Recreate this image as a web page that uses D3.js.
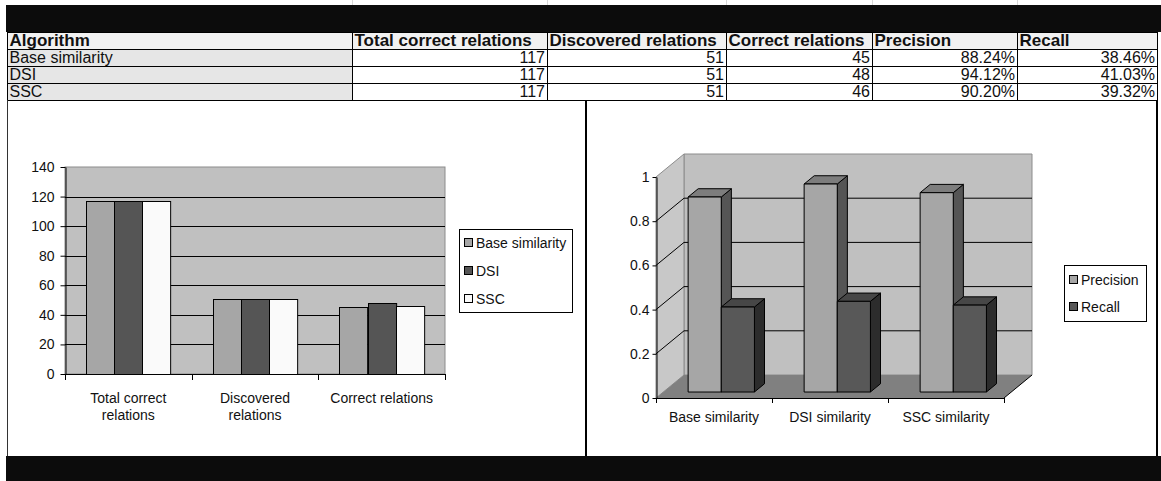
<!DOCTYPE html>
<html>
<head>
<meta charset="utf-8">
<script src="https://cdn.jsdelivr.net/npm/d3@7"></script>
<style>
  html, body { margin: 0; padding: 0; background: #fff; }
  svg { display: block; }
  text { font-family: "Liberation Sans Narrow", "Arial Narrow", "Liberation Sans", Arial, sans-serif; fill: #111; }
</style>
</head>
<body>
<svg id="chart" width="1161" height="481"></svg>
<script>
// ---- data ----
const tableColumns = ["Algorithm", "Total correct relations", "Discovered relations", "Correct relations", "Precision", "Recall"];
const algorithms = ["Base similarity", "DSI", "SSC"];
const totalCorrect = [117, 117, 117];
const discovered = [51, 51, 51];
const correctFound = [45, 48, 46];
const precision = [0.8824, 0.9412, 0.9020];
const recall = [0.3846, 0.4103, 0.3932];

const countCategories = ["Total correct relations", "Discovered relations", "Correct relations"];
const countCategoryLines = [["Total correct", "relations"], ["Discovered", "relations"], ["Correct relations"]];
const countTicks = [0, 20, 40, 60, 80, 100, 120, 140];

const rateCategories = ["Base similarity", "DSI similarity", "SSC similarity"];
const rateSeries = ["Precision", "Recall"];
const rateTicks = [0, 0.2, 0.4, 0.6, 0.8, 1];

const CHART_FONT = 14;
const svg = d3.select("#chart");

// ---- page frame ----
// faint sheet gridlines above the banner
[352, 547, 726, 872, 1017].forEach(x => {
  svg.append("line").attr("x1", x + 0.5).attr("x2", x + 0.5).attr("y1", 0).attr("y2", 5)
    .attr("stroke", "#d8d8d8");
});
svg.append("rect").attr("x", 6).attr("y", 5).attr("width", 1155).attr("height", 27).attr("fill", "#0c0c0c");
svg.append("rect").attr("x", 6).attr("y", 456).attr("width", 1155).attr("height", 25).attr("fill", "#0c0c0c");

// ---- table ----
const colEdges = [7, 352, 547, 726, 872, 1017, 1157];
const rowEdges = [32, 49, 66, 83, 100];
const pct = d3.format(".2%");
const rows = algorithms.map((a, i) => [
  a, String(totalCorrect[i]), String(discovered[i]), String(correctFound[i]),
  pct(precision[i]), pct(recall[i])
]);

const table = svg.append("g");
// header background
table.append("rect").attr("x", colEdges[0]).attr("y", rowEdges[0])
  .attr("width", colEdges[6] - colEdges[0]).attr("height", rowEdges[1] - rowEdges[0]).attr("fill", "#f1f1f1");
// first column background
table.append("rect").attr("x", colEdges[0]).attr("y", rowEdges[1])
  .attr("width", colEdges[1] - colEdges[0]).attr("height", rowEdges[4] - rowEdges[1]).attr("fill", "#e6e6e6");

rowEdges.forEach(y => table.append("line")
  .attr("x1", colEdges[0]).attr("x2", colEdges[6]).attr("y1", y + 0.5).attr("y2", y + 0.5)
  .attr("stroke", "#000"));
colEdges.forEach(x => table.append("line")
  .attr("x1", x + 0.5).attr("x2", x + 0.5).attr("y1", rowEdges[0]).attr("y2", rowEdges[4])
  .attr("stroke", "#000"));

tableColumns.forEach((c, j) => {
  table.append("text").attr("x", colEdges[j] + 2.5).attr("y", rowEdges[1] - 3.5)
    .attr("font-size", 17).attr("font-weight", "bold").text(c);
});
rows.forEach((r, i) => {
  r.forEach((v, j) => {
    const t = table.append("text").attr("y", rowEdges[i + 2] - 3.5).attr("font-size", 16).text(v);
    if (j === 0) t.attr("x", colEdges[0] + 2.5);
    else t.attr("x", colEdges[j + 1] - 2).attr("text-anchor", "end");
  });
});

// ---- panel borders ----
svg.append("line").attr("x1", 7.5).attr("x2", 7.5).attr("y1", 100).attr("y2", 456).attr("stroke", "#333");
svg.append("line").attr("x1", 586).attr("x2", 586).attr("y1", 100).attr("y2", 456).attr("stroke", "#000").attr("stroke-width", 2);
svg.append("line").attr("x1", 1157).attr("x2", 1157).attr("y1", 100).attr("y2", 456).attr("stroke", "#000").attr("stroke-width", 2);

// ---- left chart: counts per category, one column per algorithm ----
const countBySeries = algorithms.map((a, i) => ({
  name: a,
  values: [totalCorrect[i], discovered[i], correctFound[i]]
}));
const countColors = ["#a6a6a6", "#555555", "#fafafa"];

const left = svg.append("g");
const yCount = d3.scaleLinear().domain([0, 140]).range([374, 167]);
const xCount = d3.scaleBand().domain(countCategories).range([65, 445]);
const xCountSeries = d3.scaleBand().domain(algorithms).range([0, xCount.bandwidth()])
  .paddingInner(0).paddingOuter(0.75);

left.append("rect").attr("x", 65).attr("y", yCount(140)).attr("width", 380).attr("height", yCount(0) - yCount(140))
  .attr("fill", "#c0c0c0").attr("stroke", "#8c8c8c");
countTicks.filter(t => t > 0 && t < 140).forEach(t => {
  left.append("line").attr("x1", 65).attr("x2", 445).attr("y1", Math.round(yCount(t)) + 0.5).attr("y2", Math.round(yCount(t)) + 0.5)
    .attr("stroke", "#000");
});

countBySeries.forEach((s, si) => {
  left.selectAll(null).data(s.values.map((v, ci) => ({ v, c: countCategories[ci] })))
    .enter().append("rect")
    .attr("x", d => Math.round(xCount(d.c) + xCountSeries(s.name)) + 0.5)
    .attr("y", d => Math.round(yCount(d.v)) + 0.5)
    .attr("width", xCountSeries.bandwidth())
    .attr("height", d => Math.round(yCount(0)) - Math.round(yCount(d.v)))
    .attr("fill", countColors[si]).attr("stroke", "#000");
});

const yAxisL = d3.axisLeft(yCount).tickValues(countTicks).tickSize(5).tickSizeOuter(0).tickPadding(6);
const gyl = left.append("g").attr("transform", "translate(65.5,0)").call(yAxisL);
gyl.selectAll("text").attr("font-size", CHART_FONT).attr("fill", "#111");
gyl.selectAll("line,path").attr("stroke", "#000");

left.append("line").attr("x1", 65).attr("x2", 446).attr("y1", 374.5).attr("y2", 374.5).attr("stroke", "#000");
[0, 1, 2, 3].forEach(k => {
  const x = Math.round(65 + k * xCount.step()) + 0.5;
  left.append("line").attr("x1", x).attr("x2", x).attr("y1", 374).attr("y2", 380).attr("stroke", "#000");
});
countCategories.forEach((c, ci) => {
  const cx = xCount(c) + xCount.bandwidth() / 2;
  const t = left.append("text").attr("x", cx).attr("y", 403)
    .attr("text-anchor", "middle").attr("font-size", CHART_FONT);
  countCategoryLines[ci].forEach((ln, li) => t.append("tspan").attr("x", cx)
    .attr("dy", li === 0 ? 0 : 16.5).text(ln));
});

// legend
const legL = left.append("g");
legL.append("rect").attr("x", 459.5).attr("y", 229.5).attr("width", 113).attr("height", 83)
  .attr("fill", "#fff").attr("stroke", "#000");
algorithms.forEach((a, i) => {
  const cy = 243 + i * 28;
  legL.append("rect").attr("x", 464.5).attr("y", cy - 4.5).attr("width", 8).attr("height", 8)
    .attr("fill", countColors[i]).attr("stroke", "#000");
  legL.append("text").attr("x", 476).attr("y", cy + 5).attr("font-size", CHART_FONT).text(a);
});

// ---- right chart: 3D precision / recall columns ----
const right = svg.append("g");
const DX = 28, DY = 23;                 // full depth offset of the floor
const yRate = d3.scaleLinear().domain([0, 1]).range([398, 177]);
const xRate = d3.scaleBand().domain(rateCategories).range([656, 1004]);
const xRateSeries = d3.scaleBand().domain(rateSeries).range([0, xRate.bandwidth()])
  .paddingInner(0).paddingOuter(0.75);
const proj = (x, v, z) => [x + z * DX, yRate(v) - z * DY];
const poly = pts => "M" + pts.map(p => p.join(",")).join("L") + "Z";

const x0 = xRate.range()[0], x1 = xRate.range()[1];
// back wall
right.append("path").attr("d", poly([proj(x0, 1, 1), proj(x1, 1, 1), proj(x1, 0, 1), proj(x0, 0, 1)]))
  .attr("fill", "#c0c0c0").attr("stroke", "#8c8c8c");
// side wall
right.append("path").attr("d", poly([proj(x0, 1, 0), proj(x0, 1, 1), proj(x0, 0, 1), proj(x0, 0, 0)]))
  .attr("fill", "#c8c8c8").attr("stroke", "#8c8c8c");
// floor
right.append("path").attr("d", poly([proj(x0, 0, 0), proj(x0, 0, 1), proj(x1, 0, 1), proj(x1, 0, 0)]))
  .attr("fill", "#808080").attr("stroke", "none");
right.append("path").attr("d", `M${proj(x1, 0, 0)}L${proj(x1, 0, 1)}`)
  .attr("fill", "none").attr("stroke", "#000");

// gridlines on back and side walls
rateTicks.filter(t => t > 0 && t < 1).forEach(t => {
  const a = proj(x0, t, 0), b = proj(x0, t, 1), c = proj(x1, t, 1);
  right.append("path").attr("d", `M${a}L${b}L${c}`).attr("fill", "none").attr("stroke", "#000");
});

// columns, drawn left to right so each one covers its neighbour's side face
const rateValues = [precision, recall];
const faceColors = [
  { front: "#a6a6a6", side: "#555555", top: "#7d7d7d" },
  { front: "#585858", side: "#2c2c2c", top: "#474747" }
];
const zf = 0.26, zb = 0.62;
rateCategories.forEach((c, ci) => {
  rateSeries.forEach((s, si) => {
    const v = rateValues[si][ci];
    const bx0 = xRate(c) + xRateSeries(s);
    const bx1 = bx0 + xRateSeries.bandwidth();
    const col = faceColors[si];
    right.append("path").attr("d", poly([proj(bx1, 0, zf), proj(bx1, 0, zb), proj(bx1, v, zb), proj(bx1, v, zf)]))
      .attr("fill", col.side).attr("stroke", "#000").attr("stroke-linejoin", "round");
    right.append("path").attr("d", poly([proj(bx0, v, zf), proj(bx1, v, zf), proj(bx1, v, zb), proj(bx0, v, zb)]))
      .attr("fill", col.top).attr("stroke", "#000").attr("stroke-linejoin", "round");
    right.append("path").attr("d", poly([proj(bx0, 0, zf), proj(bx1, 0, zf), proj(bx1, v, zf), proj(bx0, v, zf)]))
      .attr("fill", col.front).attr("stroke", "#000").attr("stroke-linejoin", "round");
  });
});

// value axis on the front edge
const yAxisR = d3.axisLeft(yRate).tickValues(rateTicks).tickFormat(d => String(d))
  .tickSize(4).tickSizeOuter(0).tickPadding(3);
const gyr = right.append("g").attr("transform", `translate(${x0 + 0.5},0)`).call(yAxisR);
gyr.selectAll("text").attr("font-size", CHART_FONT).attr("fill", "#111");
gyr.selectAll("line,path").attr("stroke", "#000");

// category axis
right.append("line").attr("x1", x0).attr("x2", x1).attr("y1", yRate(0) + 0.5).attr("y2", yRate(0) + 0.5).attr("stroke", "#000");
[0, 1, 2, 3].forEach(k => {
  const x = Math.round(x0 + k * xRate.step()) + 0.5;
  right.append("line").attr("x1", x).attr("x2", x).attr("y1", yRate(0)).attr("y2", yRate(0) + 5).attr("stroke", "#000");
});
rateCategories.forEach(c => {
  right.append("text").attr("x", xRate(c) + xRate.bandwidth() / 2).attr("y", 422)
    .attr("text-anchor", "middle").attr("font-size", CHART_FONT).text(c);
});

// legend
const legR = right.append("g");
legR.append("rect").attr("x", 1064.5).attr("y", 265.5).attr("width", 82).attr("height", 56)
  .attr("fill", "#fff").attr("stroke", "#000");
rateSeries.forEach((s, i) => {
  const cy = 280 + i * 27;
  legR.append("rect").attr("x", 1069.5).attr("y", cy - 4.5).attr("width", 8).attr("height", 8)
    .attr("fill", faceColors[i].front).attr("stroke", "#000");
  legR.append("text").attr("x", 1081).attr("y", cy + 5).attr("font-size", CHART_FONT).text(s);
});
</script>
</body>
</html>
